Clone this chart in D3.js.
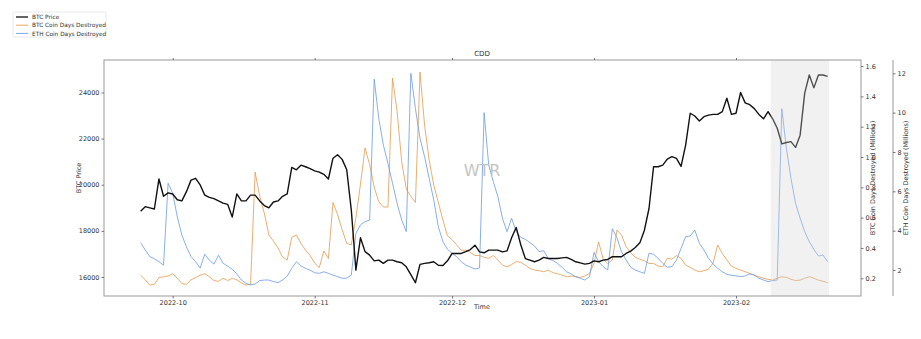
<!DOCTYPE html>
<html>
<head>
<meta charset="utf-8">
<script src="https://cdn.jsdelivr.net/npm/d3@7"></script>
<style>
  html, body { margin: 0; padding: 0; background: #fff; }
  svg { display: block; font-family: "DejaVu Sans", sans-serif; }
</style>
</head>
<body>
<svg id="chart" width="921" height="339"></svg>
<script>
// ---------------- DATA ----------------
const startDay = new Date(2022, 8, 24);
const endDay = new Date(2023, 1, 22);
const dates = d3.timeDay.range(startDay, endDay); // 2022-09-24 .. 2023-02-21 daily

const btcPrice = [
  18850,19050,19000,18950,20250,19500,19650,19600,19350,19300,
  19700,20200,20280,19990,19550,19450,19400,19300,19200,19150,
  18600,19600,19300,19300,19550,19550,19300,19100,19000,19250,
  19300,19500,19600,20750,20650,20850,20780,20700,20600,20550,
  20450,20250,21150,21300,21100,20650,18900,16300,17700,17100,
  16950,16700,16730,16590,16730,16730,16660,16620,16440,16100,
  15750,16550,16590,16620,16660,16510,16500,16700,17020,17020,
  17020,17100,17190,17380,17090,17050,17165,17165,17165,17090,
  17130,17700,18150,17400,16800,16730,16660,16730,16850,16800,
  16800,16800,16830,16850,16760,16660,16610,16560,16590,16700,
  16660,16730,16760,16880,16880,16880,17020,17120,17280,17480,
  18030,18970,20780,20780,20850,21110,21220,21140,20800,21720,
  23100,22980,22760,22950,23020,23050,23050,23170,23750,23050,
  23100,24000,23550,23470,23300,23050,22860,23170,22860,22450,
  21770,21830,21870,21620,22150,23970,24760,24200,24760,24760,
  24700
];

const btcCdd = [
  0.22,0.19,0.155,0.16,0.205,0.21,0.215,0.23,0.20,0.165,
  0.16,0.19,0.205,0.22,0.23,0.21,0.185,0.18,0.20,0.185,
  0.20,0.19,0.17,0.155,0.16,0.90,0.74,0.63,0.485,0.445,
  0.40,0.34,0.32,0.47,0.485,0.43,0.385,0.35,0.30,0.27,
  0.38,0.33,0.70,0.62,0.52,0.43,0.42,0.60,0.82,1.06,
  0.95,0.80,0.705,0.67,0.67,1.52,1.30,0.97,0.79,0.74,
  0.70,1.56,1.21,0.98,0.815,0.70,0.585,0.48,0.455,0.42,
  0.385,0.385,0.37,0.35,0.35,0.338,0.332,0.35,0.32,0.287,
  0.276,0.29,0.31,0.305,0.287,0.265,0.254,0.25,0.243,0.254,
  0.237,0.23,0.221,0.21,0.215,0.21,0.206,0.215,0.232,0.30,
  0.44,0.326,0.298,0.32,0.518,0.485,0.408,0.37,0.338,0.326,
  0.315,0.298,0.298,0.28,0.276,0.331,0.326,0.35,0.331,0.287,
  0.272,0.254,0.243,0.25,0.26,0.30,0.42,0.364,0.32,0.28,
  0.265,0.254,0.243,0.232,0.221,0.21,0.20,0.193,0.188,0.20,
  0.21,0.206,0.193,0.185,0.188,0.20,0.21,0.20,0.188,0.18,
  0.171
];

const ethCdd = [
  3.39,3.02,2.68,2.57,2.42,2.25,6.41,5.90,4.71,3.78,
  3.18,2.68,2.42,2.10,2.80,2.50,2.30,2.75,2.34,2.20,
  2.04,1.80,1.49,1.32,1.24,1.29,1.46,1.49,1.49,1.41,
  1.36,1.49,1.69,2.09,2.42,2.20,2.09,1.99,1.86,1.83,
  1.91,1.83,1.74,1.66,1.58,1.58,1.74,3.87,4.29,4.46,
  4.54,11.7,9.7,8.35,7.42,6.41,5.39,4.54,3.95,12.0,
  10.2,8.70,7.76,6.66,5.56,4.20,3.44,3.05,2.85,2.68,
  2.42,2.25,2.15,2.05,2.10,10.0,7.34,6.49,5.73,4.63,
  3.95,4.63,3.95,3.66,3.56,3.39,3.22,2.93,2.98,2.59,
  2.48,2.34,2.14,1.91,1.80,1.66,1.58,1.49,1.66,2.90,
  2.42,2.17,2.00,4.10,3.64,2.93,2.51,2.14,2.00,1.91,
  1.83,2.85,2.80,2.59,2.34,2.14,2.17,2.51,3.10,3.69,
  3.73,4.03,3.36,3.02,2.59,2.30,2.09,1.91,1.78,1.73,
  1.70,1.66,1.70,1.80,1.74,1.58,1.49,1.41,1.46,1.49,
  10.2,8.19,6.66,5.39,4.63,3.95,3.44,3.05,2.71,2.76,
  2.42
];

const priceTicks = [16000, 18000, 20000, 22000, 24000];
const btcCddTicks = [0.2, 0.4, 0.6, 0.8, 1.0, 1.2, 1.4, 1.6];
const ethCddTicks = [2, 4, 6, 8, 10, 12];
const shadeRange = [new Date(2023, 1, 8, 14), new Date(2023, 1, 21, 8)];
const seriesNames = ["BTC Price", "BTC Coin Days Destroyed", "ETH Coin Days Destroyed"];
const seriesColors = ["#111111", "#e89a4e", "#6c9be6"];

// ---------------- LAYOUT ----------------
const svg = d3.select("#chart");
const L = 104, R = 861, T = 60, B = 296;
const fontSize = 6.5;

const x = d3.scaleTime()
  .domain([new Date(2022, 8, 16, 0), new Date(2023, 1, 28, 7)])
  .range([L, R]);
const yPrice = d3.scaleLinear().domain([15176, 25409]).range([B, T]);
const yBtc = d3.scaleLinear().domain([0.083, 1.64]).range([B, T]);
const yEth = d3.scaleLinear().domain([0.678, 12.676]).range([B, T]);

svg.append("defs").append("clipPath").attr("id", "plotclip")
  .append("rect").attr("x", L).attr("y", T).attr("width", R - L).attr("height", B - T);

const plot = svg.append("g").attr("clip-path", "url(#plotclip)");

function mkLine(yScale) {
  return d3.line().x((d, i) => x(dates[i])).y(d => yScale(d));
}

plot.append("path").datum(btcCdd)
  .attr("d", mkLine(yBtc))
  .attr("fill", "none").attr("stroke", seriesColors[1])
  .attr("stroke-width", 0.9).attr("stroke-opacity", 0.9).attr("stroke-linejoin", "round");

plot.append("path").datum(ethCdd)
  .attr("d", mkLine(yEth))
  .attr("fill", "none").attr("stroke", seriesColors[2])
  .attr("stroke-width", 0.9).attr("stroke-opacity", 0.9).attr("stroke-linejoin", "round");

plot.append("path").datum(btcPrice)
  .attr("d", mkLine(yPrice))
  .attr("fill", "none").attr("stroke", seriesColors[0])
  .attr("stroke-width", 1.4).attr("stroke-linejoin", "round");

// shaded span (drawn over, semi-transparent)
plot.append("rect")
  .attr("x", x(shadeRange[0])).attr("y", T)
  .attr("width", x(shadeRange[1]) - x(shadeRange[0]))
  .attr("height", B - T)
  .attr("fill", "#d4d4d4").attr("fill-opacity", 0.32);

// watermark
svg.append("text")
  .attr("x", 482).attr("y", 176)
  .attr("text-anchor", "middle")
  .attr("font-size", 16).attr("fill", "#c4c4c4")
  .text("WTR");

// frame
svg.append("rect")
  .attr("x", L).attr("y", T).attr("width", R - L).attr("height", B - T)
  .attr("fill", "none").attr("stroke", "#999").attr("stroke-width", 1);

function styleAxis(g) {
  g.select(".domain").remove();
  g.selectAll(".tick line").attr("stroke", "#555").attr("stroke-width", 0.8);
  g.selectAll(".tick text").attr("fill", "#333").attr("font-size", fontSize)
    .attr("font-family", "DejaVu Sans, sans-serif");
}

// x axis
svg.append("g").attr("transform", `translate(0,${B})`)
  .call(d3.axisBottom(x).ticks(d3.timeMonth.every(1)).tickFormat(d3.timeFormat("%Y-%m"))
    .tickSize(2.5).tickPadding(2))
  .call(styleAxis);
svg.append("g").attr("transform", `translate(0,${T})`)
  .call(d3.axisTop(x).ticks(d3.timeMonth.every(1)).tickFormat("").tickSize(2))
  .call(styleAxis);

// left axis
svg.append("g").attr("transform", `translate(${L},0)`)
  .call(d3.axisLeft(yPrice).tickValues(priceTicks).tickFormat(d3.format("d"))
    .tickSize(2.5).tickPadding(2))
  .call(styleAxis);

// right axis 1
svg.append("g").attr("transform", `translate(${R},0)`)
  .call(d3.axisRight(yBtc).tickValues(btcCddTicks).tickFormat(d3.format(".1f"))
    .tickSize(2.5).tickPadding(2))
  .call(styleAxis);

// right axis 2 (offset spine)
const R2 = 893;
svg.append("line").attr("x1", R2).attr("x2", R2).attr("y1", T).attr("y2", B)
  .attr("stroke", "#999").attr("stroke-width", 1);
svg.append("g").attr("transform", `translate(${R2},0)`)
  .call(d3.axisRight(yEth).tickValues(ethCddTicks).tickFormat(d3.format("d"))
    .tickSize(2.5).tickPadding(2))
  .call(styleAxis);

// labels
const lab = (txt, xx, yy, rot) => {
  const t = svg.append("text")
    .attr("text-anchor", "middle").attr("font-size", fontSize).attr("fill", "#333")
    .attr("transform", `translate(${xx},${yy})` + (rot ? ` rotate(${rot})` : ""))
    .text(txt);
  return t;
};
lab("CDD", 482, 56, 0).attr("font-size", 7);
lab("Time", 482, 309, 0);
lab("BTC Price", 81, 178, -90);
lab("BTC Coin Days Destroyed (Millions)", 875, 178, -90);
lab("ETH Coin Days Destroyed (Millions)", 908, 178, -90);

// legend
const lg = svg.append("g");
lg.append("rect").attr("x", 13).attr("y", 12).attr("width", 93).attr("height", 25)
  .attr("fill", "#fff").attr("stroke", "#e2e2e2").attr("stroke-width", 0.8).attr("rx", 1.5);
seriesNames.forEach((name, i) => {
  const yy = 17 + i * 8.2;
  lg.append("line").attr("x1", 16).attr("x2", 28).attr("y1", yy).attr("y2", yy)
    .attr("stroke", seriesColors[i]).attr("stroke-width", i === 0 ? 1.3 : 0.9);
  lg.append("text").attr("x", 32).attr("y", yy + 2.2)
    .attr("font-size", 5.8).attr("fill", "#333").text(name);
});
</script>
</body>
</html>
